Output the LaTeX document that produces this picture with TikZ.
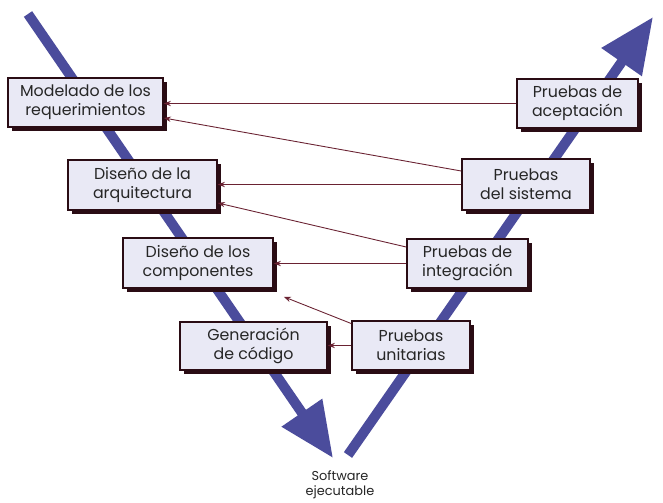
\documentclass[tikz,border=0pt]{standalone}
\usepackage{fontspec}
\setmainfont{Poppins}
\usetikzlibrary{arrows.meta,shadows,calc}
\definecolor{vblue}{HTML}{4B4C9C}
\definecolor{boxfill}{HTML}{E9E9F5}
\definecolor{boxline}{HTML}{2A0C14}
\definecolor{connc}{HTML}{6A2232}
\definecolor{txt}{HTML}{262626}
\begin{document}
\begin{tikzpicture}[x=0.03cm,y=-0.03cm,
  vline/.style={line width=0.3cm, draw=vblue, -{Triangle[length=1.65cm,width=1.4cm]}},
  stage/.style={draw=boxline, line width=1.4pt, fill=boxfill, text=txt, align=center,
    font=\fontsize{13.5}{16.5}\selectfont, inner sep=0pt,
    general shadow={fill=boxline, shadow xshift=0.12cm, shadow yshift=-0.12cm}},
  conn/.style={draw=connc, line width=0.75pt, -{Stealth[length=6pt,width=4.5pt]}},
]
\fill[white] (0,0) rectangle (663,503);
\useasboundingbox (0,0) rectangle (663,503);

% V shape
\coordinate (ltop) at (28,14);
\coordinate (ltip) at (333,458);
\coordinate (rbot) at (348,455);
\coordinate (rtip) at (653,17);
\draw[vline] (ltop) -- (ltip);
\draw[vline] (rbot) -- (rtip);

% boxes
\node[stage, minimum width=4.65cm, minimum height=1.47cm] (mod) at (85.5,102.5) {Modelado de los\\requerimientos};
\node[stage, minimum width=3.63cm, minimum height=1.47cm] (acep) at (577.5,103.5) {Pruebas de\\aceptación};
\node[stage, minimum width=4.47cm, minimum height=1.5cm] (arq) at (142.5,185) {Diseño de la\\arquitectura};
\node[stage, minimum width=3.84cm, minimum height=1.53cm] (sist) at (526,184.5) {Pruebas\\del sistema};
\node[stage, minimum width=4.5cm, minimum height=1.5cm] (comp) at (198,263) {Diseño de los\\componentes};
\node[stage, minimum width=3.63cm, minimum height=1.47cm] (integ) at (467.5,263.5) {Pruebas de\\integración};
\node[stage, minimum width=4.41cm, minimum height=1.44cm] (gen) at (253.5,346) {Generación\\de código};
\node[stage, minimum width=3.54cm, minimum height=1.47cm] (unit) at (411,345.5) {Pruebas\\unitarias};

\node[font=\fontsize{11}{13}\selectfont, text=txt, align=center] (sw) at (340,485) {Software\\ejecutable};

% connectors
\draw[conn] (acep.west) -- (acep.west -| mod.east);
\draw[conn] ([yshift=0.405cm]sist.west) -- ([yshift=-0.465cm]mod.east);
\draw[conn] (sist.west) -- (sist.west -| arq.east);
\draw[conn] ([yshift=0.495cm]integ.west) -- ([yshift=-0.54cm]arq.east);
\draw[conn] (integ.west) -- (integ.west -| comp.east);
\draw[conn] ([yshift=-0.1cm]unit.north west) -- ([xshift=0.3cm,yshift=-0.24cm]comp.south east);
\draw[conn] (unit.west) -- (unit.west -| gen.east);
\end{tikzpicture}
\end{document}
